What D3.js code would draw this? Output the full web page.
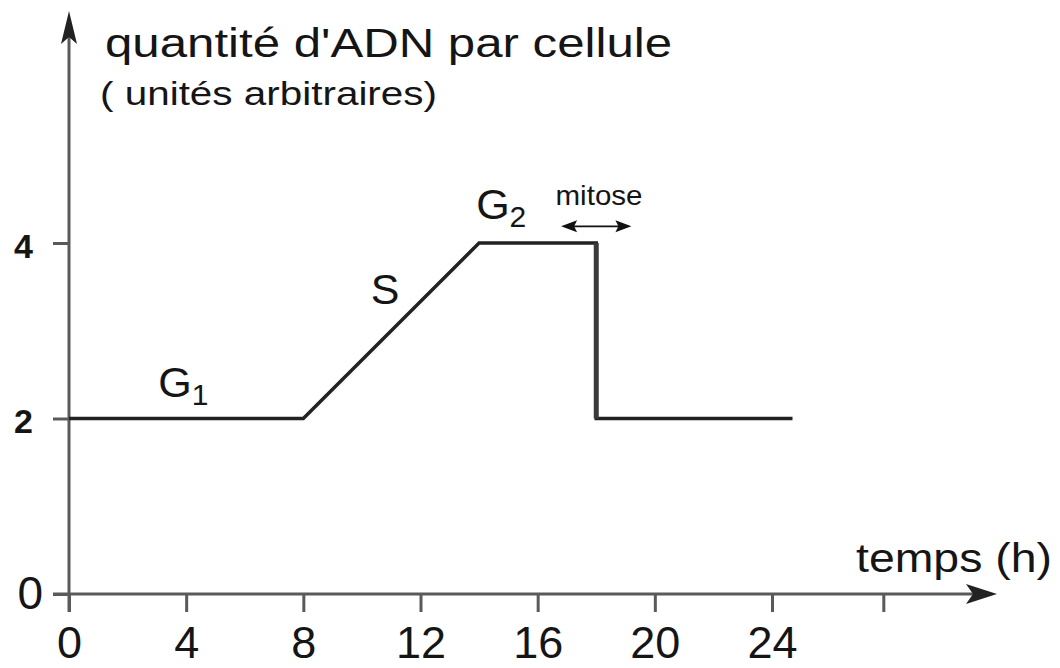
<!DOCTYPE html>
<html>
<head>
<meta charset="utf-8">
<script src="https://cdn.jsdelivr.net/npm/d3@7"></script>
<style>
	body { margin: 0; background: #fff; }
	svg { display: block; font-family: "Liberation Sans", Arial, sans-serif; }
	.curve { fill: none; stroke: #222; stroke-width: 3.5; stroke-linejoin: miter; }
	.axis-line { stroke: #5a5a5a; stroke-width: 3; }
	.lbl { fill: #151515; }
</style>
</head>
<body>
<svg id="chart" width="1060" height="668"></svg>
<script>
// time (h) and DNA quantity per cell
const hours = [0, 8, 14, 18, 18, 24.7];
const dnaAmount = [2, 2, 4, 4, 2, 2];

const xTicks = [0, 4, 8, 12, 16, 20, 24, 27.8];
const xTickLabels = ["0", "4", "8", "12", "16", "20", "24", ""];
const yTicks = [0, 2, 4];
const yTickLabels = ["0", "2", "4"];

// phases: name, subscript, position (h, dna)
const phases = [
	{ name: "G", sub: "1", t: 3.05, v: 2.25 },
	{ name: "G", sub: "2", t: 13.9, v: 4.27 },
	{ name: "S", sub: "", t: 10.3, v: 3.3 }
];
const mitose = { start: 16.8, end: 19.2, v: 4.19 };

const svg = d3.select("#chart");

const x = d3.scaleLinear().domain([0, 24]).range([69, 772]);
const y = d3.scaleLinear().domain([0, 4]).range([594, 243]);

// axes lines
const axisGroup = svg.append("g").attr("class", "axes");
axisGroup.append("line")
	.attr("class", "axis-line")
	.attr("x1", x(0) - 16).attr("x2", 975)
	.attr("y1", y(0)).attr("y2", y(0));
axisGroup.append("line")
	.attr("class", "axis-line")
	.attr("x1", x(0)).attr("x2", x(0))
	.attr("y1", y(0) + 18).attr("y2", 30);

// arrow heads
axisGroup.append("path")
	.attr("d", `M997,${y(0)} L966,${y(0) - 10} L973,${y(0)} L966,${y(0) + 10} Z`)
	.attr("fill", "#222");
axisGroup.append("path")
	.attr("d", `M${x(0)},11 L${x(0) - 8},44 L${x(0)},37 L${x(0) + 8},44 Z`)
	.attr("fill", "#222");

// x axis ticks
const xAxis = d3.axisBottom(x)
	.tickValues(xTicks)
	.tickSize(18)
	.tickSizeOuter(0)
	.tickPadding(14)
	.tickFormat((d, i) => xTickLabels[i]);

const gx = svg.append("g")
	.attr("transform", `translate(0,${y(0)})`)
	.call(xAxis);
gx.select(".domain").remove();
gx.selectAll(".tick line").attr("stroke", "#5a5a5a").attr("stroke-width", 3);
gx.selectAll(".tick text")
	.attr("fill", "#151515")
	.style("font-size", "45px")
	.style("font-family", "Liberation Sans, Arial, sans-serif");

// y axis ticks
const yAxis = d3.axisLeft(y)
	.tickValues(yTicks)
	.tickSize(16)
	.tickSizeOuter(0)
	.tickPadding(18)
	.tickFormat((d, i) => yTickLabels[i]);

const gy = svg.append("g")
	.attr("transform", `translate(${x(0)},0)`)
	.call(yAxis);
gy.select(".domain").remove();
gy.selectAll(".tick line").attr("stroke", "#5a5a5a").attr("stroke-width", 3);
gy.selectAll(".tick text")
	.attr("fill", "#151515")
	.style("font-family", "Liberation Sans, Arial, sans-serif")
	.style("font-size", (d) => d === 0 ? "46px" : "34px")
	.style("font-weight", (d) => d === 0 ? "normal" : "bold")
	.attr("x", (d) => d === 0 ? -26 : -36)
	.attr("dy", (d) => d === 0 ? "0.32em" : "0.42em");

// the curve
const lineGen = d3.line()
	.x((d, i) => x(hours[i]))
	.y((d) => y(d));

svg.append("path")
	.datum(dnaAmount)
	.attr("class", "curve")
	.attr("d", lineGen);

// mitosis drop, drawn a bit heavier
const dropIdx = 3;
svg.append("line")
	.attr("x1", x(hours[dropIdx])).attr("x2", x(hours[dropIdx + 1]))
	.attr("y1", y(dnaAmount[dropIdx])).attr("y2", y(dnaAmount[dropIdx + 1]))
	.attr("stroke", "#3a3a3a")
	.attr("stroke-width", 5);

// phase labels
phases.forEach((p) => {
	const t = svg.append("text")
		.attr("class", "lbl")
		.attr("x", x(p.t))
		.attr("y", y(p.v))
		.style("font-size", "43px")
		.text(p.name);
	if (p.sub) {
		t.append("tspan")
			.attr("dy", 8)
			.style("font-size", "30px")
			.text(p.sub);
	}
});

// mitose label and arrow
svg.append("text")
	.attr("class", "lbl")
	.attr("x", 599)
	.attr("y", 205)
	.attr("text-anchor", "middle")
	.style("font-size", "28px")
	.attr("textLength", 87)
	.attr("lengthAdjust", "spacingAndGlyphs")
	.text("mitose");

const ay = y(mitose.v);
const ax1 = x(mitose.start), ax2 = x(mitose.end);
svg.append("line")
	.attr("x1", ax1 + 8).attr("x2", ax2 - 8)
	.attr("y1", ay).attr("y2", ay)
	.attr("stroke", "#111").attr("stroke-width", 1.6);
svg.append("path")
	.attr("d", `M${ax1},${ay} L${ax1 + 16},${ay - 6} L${ax1 + 13},${ay} L${ax1 + 16},${ay + 6} Z
	            M${ax2},${ay} L${ax2 - 16},${ay - 6} L${ax2 - 13},${ay} L${ax2 - 16},${ay + 6} Z`)
	.attr("fill", "#111");

// axis titles
svg.append("text")
	.attr("class", "lbl")
	.attr("x", 105).attr("y", 57)
	.style("font-size", "40px")
	.attr("textLength", 567)
	.attr("lengthAdjust", "spacingAndGlyphs")
	.text("quantité d'ADN par cellule");

svg.append("text")
	.attr("class", "lbl")
	.attr("x", 100).attr("y", 105)
	.style("font-size", "33px")
	.attr("textLength", 337)
	.attr("lengthAdjust", "spacingAndGlyphs")
	.text("( unités arbitraires)");

svg.append("text")
	.attr("class", "lbl")
	.attr("x", 856).attr("y", 572)
	.style("font-size", "40px")
	.attr("textLength", 196)
	.attr("lengthAdjust", "spacingAndGlyphs")
	.text("temps (h)");
</script>
</body>
</html>
